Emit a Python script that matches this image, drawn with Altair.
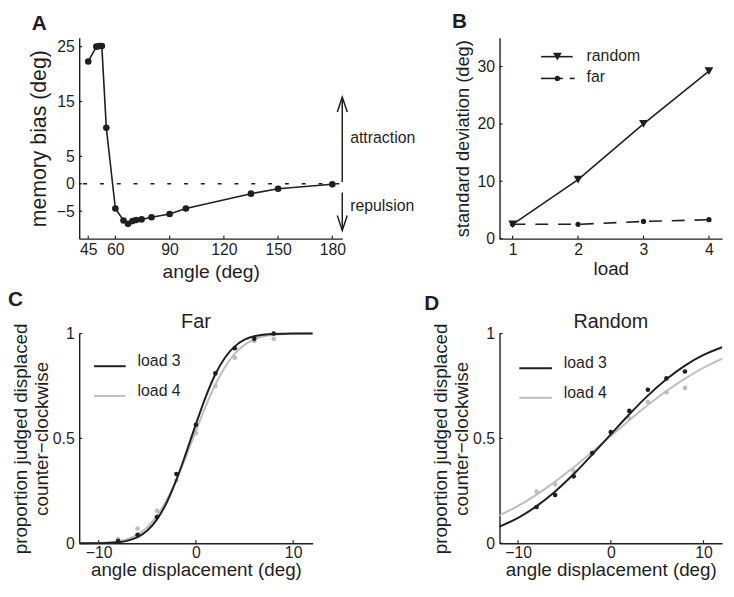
import altair as alt
import pandas as pd

FONT = "Liberation Sans"
INK = "#1f1f1f"
GRAY = "#bdbdbd"
TICK_FS = 16
LEGEND_FS = 16
LETTER_FS = 21

panel_letters = ["A", "B", "C", "D"]

# ---------------- Panel A: memory bias vs angle ----------------
a_angle = [45, 49.5, 51, 52.5, 55, 60, 64.5, 67, 69.5, 71.5, 74.5, 80, 90, 99, 135, 150, 180]
a_bias = [22.3, 25.0, 25.1, 25.1, 10.2, -4.5, -6.7, -7.3, -6.8, -6.6, -6.5, -6.1, -5.5, -4.5, -1.8, -0.9, -0.1]
a_xticks = [45, 60, 90, 120, 150, 180]
a_yticks = [-5, 0, 5, 15, 25]
a_annot = ["attraction", "repulsion"]

# ---------------- Panel B: SD vs load ----------------
b_load = [1, 2, 3, 4]
b_random = [2.5, 10.3, 20.0, 29.2]
b_far = [2.5, 2.5, 3.0, 3.3]
b_series = ["random", "far"]
b_yticks = [0, 10, 20, 30]

# ---------------- Panels C, D: psychometric functions ----------------
disp = [-8, -6, -4, -2, 0, 2, 4, 6, 8]
c_load3 = [0.01, 0.04, 0.125, 0.33, 0.565, 0.81, 0.93, 0.975, 1.0]
c_load4 = [0.02, 0.07, 0.155, 0.30, 0.525, 0.75, 0.885, 0.965, 0.975]
c_fit_x = [-12, -10, -8, -7, -6, -5, -4, -3, -2, -1, 0, 1, 2, 3, 4, 5, 6, 8, 10, 12]
c_fit3 = [0.0, 0.0005, 0.005, 0.0125, 0.029, 0.061, 0.114, 0.194, 0.303, 0.432, 0.568,
          0.697, 0.806, 0.886, 0.939, 0.971, 0.9875, 0.998, 1.0, 1.0]
c_fit4 = [0.0002, 0.0016, 0.0098, 0.021, 0.042, 0.077, 0.131, 0.207, 0.303, 0.416, 0.536,
          0.653, 0.757, 0.841, 0.904, 0.946, 0.972, 0.994, 0.999, 1.0]
d_load3 = [0.173, 0.23, 0.319, 0.43, 0.53, 0.631, 0.732, 0.786, 0.819]
d_load4 = [0.246, 0.28, 0.344, 0.428, 0.526, 0.596, 0.674, 0.72, 0.741]
d_fit_x = [-12, -10, -8, -6, -4, -2, 0, 2, 4, 6, 8, 10, 12]
d_fit3 = [0.079, 0.121, 0.177, 0.247, 0.330, 0.423, 0.519, 0.615, 0.704, 0.782, 0.847, 0.898, 0.935]
d_fit4 = [0.133, 0.178, 0.232, 0.294, 0.362, 0.436, 0.511, 0.587, 0.659, 0.726, 0.785, 0.837, 0.879]
load_names = ["load 3", "load 4"]
pc_xticks = [-10, 0, 10]
pc_yticks = [0, 0.5, 1]
pc_titles = ["Far", "Random"]
pc_ytitle = ["proportion judged displaced", "counter\u2212clockwise"]


def mk_axis(values, title, label_pad, title_pad, title_fs, fmt="d", line_height=None):
    kw = dict(values=values, title=title, ticks=False, tickSize=0, labelPadding=label_pad,
              titlePadding=title_pad, grid=False, domainColor=INK, domainWidth=1.4,
              labelFont=FONT, labelFontSize=TICK_FS, labelColor=INK, titleFont=FONT,
              titleFontSize=title_fs, titleFontWeight="normal", titleColor=INK,
              labelFlush=False, labelOverlap=False, format=fmt)
    if line_height:
        kw["titleLineHeight"] = line_height
    return alt.Axis(**kw)


def letter(ch, dx, dy):
    return alt.Chart(pd.DataFrame({"t": [ch]})).mark_text(
        align="left", baseline="top", font=FONT, fontSize=LETTER_FS, fontWeight="bold", color=INK
    ).encode(x=alt.value(dx), y=alt.value(dy), text="t:N")


def inward_x(vals, scale, axis, H):
    return alt.Chart(pd.DataFrame({"t": vals})).mark_rule(color=INK, strokeWidth=1.2).encode(
        x=alt.X("t:Q", scale=scale, axis=axis), y=alt.value(H), y2=alt.value(H - 3))


def inward_y(vals, scale, axis):
    return alt.Chart(pd.DataFrame({"t": vals})).mark_rule(color=INK, strokeWidth=1.2).encode(
        y=alt.Y("t:Q", scale=scale, axis=axis), x=alt.value(0), x2=alt.value(3))


def text_px(label, x, y, align="left", size=LEGEND_FS):
    return alt.Chart(pd.DataFrame({"t": [label]})).mark_text(
        align=align, baseline="middle", font=FONT, fontSize=size, color=INK
    ).encode(x=alt.value(x), y=alt.value(y), text="t:N")


# ================= Panel A =================
WA, HA = 266, 203
ax_sc = alt.Scale(domain=[40, 185.5], nice=False, zero=False)
ay_sc = alt.Scale(domain=[-10, 26.6], nice=False, zero=False)
ax_ax = mk_axis(a_xticks, "angle (deg)", 3, 5, 19.5)
ay_ax = mk_axis(a_yticks, "memory bias (deg)", 5, 6, 21.5)
a_df = pd.DataFrame({"angle": a_angle, "bias": a_bias})
AY = lambda f: alt.Y(f, scale=ay_sc, axis=ay_ax)

a_zero = alt.Chart(pd.DataFrame({"v": [0.0]})).mark_rule(
    color=INK, strokeWidth=1.4, strokeDash=[4, 13]
).encode(y=AY("v:Q"), x=alt.value(4), x2=alt.value(WA + 6))

a_main = alt.Chart(a_df).mark_line(
    color=INK, strokeWidth=1.6,
    point=alt.OverlayMarkDef(filled=True, size=45, color=INK, opacity=1)
).encode(x=alt.X("angle:Q", scale=ax_sc, axis=ax_ax), y=AY("bias:Q"))

arrow_df = pd.DataFrame({"t": a_annot, "base": [0.3, -1.6], "tip": [15.8, -8.5], "lab": [8.3, -4.0]})
a_shafts = alt.Chart(arrow_df).mark_rule(color=INK, strokeWidth=1.5).encode(
    x=alt.value(WA), y=AY("base:Q"), y2="tip:Q")
a_up_head = alt.Chart(arrow_df.iloc[:1]).mark_point(
    shape="M-0.67,2L0,0L0.67,2", filled=False, size=225, strokeWidth=1.5, color=INK, opacity=1
).encode(x=alt.value(WA), y=AY("tip:Q"))
a_down_head = alt.Chart(arrow_df.iloc[1:]).mark_point(
    shape="M-0.67,-2L0,0L0.67,-2", filled=False, size=225, strokeWidth=1.5, color=INK, opacity=1
).encode(x=alt.value(WA), y=AY("tip:Q"))
a_texts = alt.Chart(arrow_df).mark_text(
    align="left", baseline="middle", font=FONT, fontSize=LEGEND_FS, color=INK
).encode(x=alt.value(WA + 8), y=AY("lab:Q"), text="t:N")

panel_a = alt.layer(
    a_zero, inward_x(a_xticks, ax_sc, ax_ax, HA), inward_y(a_yticks, ay_sc, ay_ax), a_main,
    a_shafts, a_up_head, a_down_head, a_texts, letter(panel_letters[0], -48, -25)
).properties(width=WA, height=HA)

# ================= Panel B =================
WB, HB = 225, 203
bx_sc = alt.Scale(domain=[0.8, 4.2], nice=False, zero=False)
by_sc = alt.Scale(domain=[0, 35], nice=False)
bx_ax = mk_axis(b_load, "load", 3, 2, 19)
by_ax = mk_axis(b_yticks, "standard deviation (deg)", 5, 5, 18.5)
rand_df = pd.DataFrame({"load": b_load, "sd": b_random})
far_df = pd.DataFrame({"load": b_load, "sd": b_far})
b_x = alt.X("load:Q", scale=bx_sc, axis=bx_ax)
b_y = alt.Y("sd:Q", scale=by_sc, axis=by_ax)

b_rand_line = alt.Chart(rand_df).mark_line(color=INK, strokeWidth=1.6).encode(x=b_x, y=b_y)
b_rand_pts = alt.Chart(rand_df).mark_point(
    shape="triangle-down", filled=True, size=80, color=INK, opacity=1).encode(x=b_x, y=b_y)
b_far_line = alt.Chart(far_df).mark_line(color=INK, strokeWidth=1.6, strokeDash=[13, 10]).encode(x=b_x, y=b_y)
b_far_pts = alt.Chart(far_df).mark_point(
    shape="circle", filled=True, size=28, color=INK, opacity=1).encode(x=b_x, y=b_y)

lg_df = pd.DataFrame({"t": b_series})
b_lg1 = alt.Chart(lg_df.iloc[:1]).mark_rule(color=INK, strokeWidth=1.6).encode(
    x=alt.value(42), x2=alt.value(74), y=alt.value(19))
b_lg1p = alt.Chart(lg_df.iloc[:1]).mark_point(
    shape="triangle-down", filled=True, size=80, color=INK, opacity=1).encode(
    x=alt.value(58.5), y=alt.value(19))
b_lg2a = alt.Chart(lg_df.iloc[1:]).mark_rule(color=INK, strokeWidth=1.6).encode(
    x=alt.value(42), x2=alt.value(64), y=alt.value(41))
b_lg2b = alt.Chart(lg_df.iloc[1:]).mark_rule(color=INK, strokeWidth=1.6).encode(
    x=alt.value(71), x2=alt.value(76), y=alt.value(41))
b_lg2p = alt.Chart(lg_df.iloc[1:]).mark_point(
    shape="circle", filled=True, size=28, color=INK, opacity=1).encode(
    x=alt.value(58.5), y=alt.value(41))
b_t1 = text_px(b_series[0], 88, 18)
b_t2 = text_px(b_series[1], 88, 40)

panel_b = alt.layer(
    inward_x(b_load, bx_sc, bx_ax, HB), inward_y(b_yticks, by_sc, by_ax),
    b_rand_line, b_far_line, b_rand_pts, b_far_pts,
    b_lg1, b_lg1p, b_lg2a, b_lg2b, b_lg2p, b_t1, b_t2,
    letter(panel_letters[1], -48, -27)
).properties(width=WB, height=HB)


# ================= Panels C, D =================
def psycho(letter_ch, title, fit_x, fit3, fit4, pts3, pts4, W, H, ldx, ldy, lg):
    xs = alt.Scale(domain=[-12, 12], nice=False, zero=False)
    ys = alt.Scale(domain=[0, 1], nice=False)
    xa = mk_axis(pc_xticks, "angle displacement (deg)", 1, 1, 19)
    ya = mk_axis(pc_yticks, pc_ytitle, 5, 1, 19, fmt=".1~f", line_height=21)
    X = alt.X("x:Q", scale=xs, axis=xa)
    Y = alt.Y("p:Q", scale=ys, axis=ya)
    f4 = alt.Chart(pd.DataFrame({"x": fit_x, "p": fit4})).mark_line(
        color=GRAY, strokeWidth=2, interpolate="monotone").encode(x=X, y=Y)
    f3 = alt.Chart(pd.DataFrame({"x": fit_x, "p": fit3})).mark_line(
        color=INK, strokeWidth=2, interpolate="monotone").encode(x=X, y=Y)
    p4 = alt.Chart(pd.DataFrame({"x": disp, "p": pts4})).mark_point(
        filled=True, size=22, color=GRAY, opacity=1).encode(x=X, y=Y)
    p3 = alt.Chart(pd.DataFrame({"x": disp, "p": pts3})).mark_point(
        filled=True, size=22, color=INK, opacity=1).encode(x=X, y=Y)
    x0, x1, tx, y3, y4 = lg
    l3 = alt.Chart(pd.DataFrame({"t": load_names[:1]})).mark_rule(color=INK, strokeWidth=2).encode(
        x=alt.value(x0), x2=alt.value(x1), y=alt.value(y3))
    l4 = alt.Chart(pd.DataFrame({"t": load_names[1:]})).mark_rule(color=GRAY, strokeWidth=2).encode(
        x=alt.value(x0), x2=alt.value(x1), y=alt.value(y4))
    t3 = text_px(load_names[0], tx, y3 - 5)
    t4 = text_px(load_names[1], tx, y4 - 5)
    ttl = text_px(title, W / 2, -12, align="center", size=20)
    return alt.layer(
        inward_x(pc_xticks, xs, xa, H), inward_y(pc_yticks, ys, ya),
        f4, p4, f3, p3, l3, l4, t3, t4, ttl, letter(letter_ch, ldx, ldy)
    ).properties(width=W, height=H)


panel_c = psycho(panel_letters[2], pc_titles[0], c_fit_x, c_fit3, c_fit4, c_load3, c_load4,
                 236, 212, -72, -45, (15, 47, 59, 33, 63))
panel_d = psycho(panel_letters[3], pc_titles[1], d_fit_x, d_fit3, d_fit4, d_load3, d_load4,
                 225, 212, -76, -41, (20, 53, 65, 35, 65))

chart = alt.concat(
    panel_a, panel_b, panel_c, panel_d, columns=2,
    spacing={"row": 96, "column": 159}, bounds="flush", align="each"
).properties(padding=0).configure_view(stroke=None)

chart.save("out.html", embed_options={"renderer": "svg", "actions": False})
